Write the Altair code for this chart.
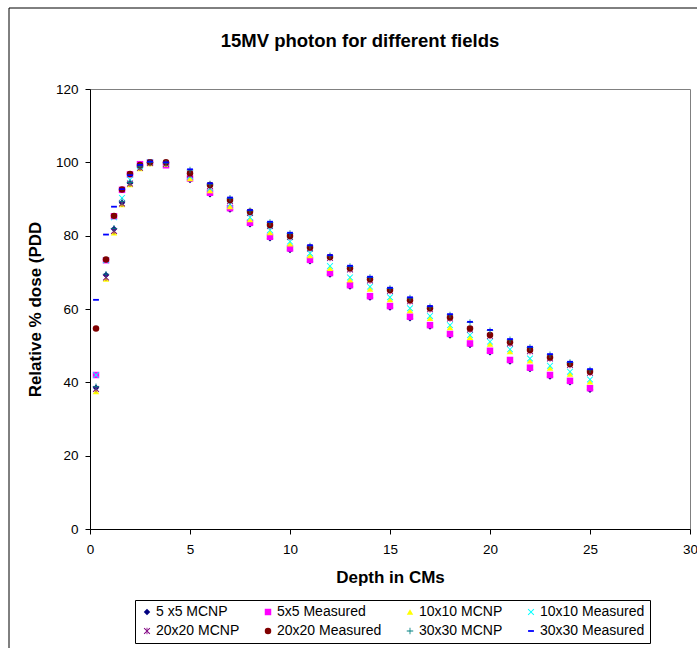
import altair as alt
import pandas as pd

# ---------------- data ----------------
depth = [0.3, 0.8, 1.2, 1.6, 2.0, 2.5, 3.0, 3.8,
         5, 6, 7, 8, 9, 10, 11, 12, 13, 14, 15, 16, 17, 18, 19, 20, 21, 22, 23, 24, 25]

mcnp_5x5 = [38.5, 69.3, 81.8, 89.0, 94.3, 98.6, 99.8, 99.4,
            95.2, 91.3, 87.1, 83.1, 79.3, 76.1, 73.0, 69.4, 66.1, 63.1, 60.4, 57.5, 55.2,
            52.8, 50.2, 48.2, 45.7, 43.6, 41.6, 40.0, 38.0]
meas_5x5 = [42.0, 73.3, 85.3, 92.5, 96.7, 99.5, 100.0, 99.2,
            95.6, 91.7, 87.5, 83.5, 79.7, 76.5, 73.4, 69.8, 66.5, 63.5, 60.8, 57.9, 55.6,
            53.2, 50.6, 48.6, 46.1, 44.0, 42.0, 40.4, 38.4]
mcnp_10x10 = [37.5, 68.2, 80.8, 88.5, 94.0, 98.3, 99.7, 99.5,
              95.6, 92.3, 88.0, 84.4, 80.9, 77.8, 74.6, 71.1, 68.0, 65.5, 62.6, 59.6, 57.5,
              55.0, 52.3, 50.5, 48.4, 45.9, 43.9, 42.3, 40.2]
meas_10x10 = [42.0, 73.3, 85.0, 90.3, 95.3, 99.0, 100.0, 99.6,
              96.2, 92.9, 88.6, 85.0, 81.5, 78.4, 75.2, 71.7, 68.6, 66.1, 63.2, 60.2, 58.1,
              55.6, 52.9, 51.1, 49.0, 46.5, 44.5, 42.9, 40.8]
mcnp_20x20 = [38.2, 68.6, 81.3, 88.8, 94.2, 98.5, 99.8, 99.6,
              96.7, 93.5, 89.4, 86.2, 82.6, 79.6, 76.5, 73.9, 70.8, 67.8, 64.9, 62.1, 59.9,
              57.4, 54.4, 52.6, 50.6, 48.5, 46.5, 44.7, 42.6]
meas_20x20 = [54.7, 73.5, 85.4, 92.6, 96.8, 99.3, 100.0, 100.0,
              97.0, 93.8, 89.7, 86.5, 82.9, 79.9, 76.8, 74.2, 71.1, 68.1, 65.2, 62.4, 60.2,
              57.7, 54.7, 52.9, 50.9, 48.8, 46.8, 45.0, 42.9]
mcnp_30x30 = [38.8, 69.5, 82.0, 89.3, 94.5, 98.8, 100.0, 99.8,
              97.9, 94.1, 90.2, 86.8, 83.6, 80.6, 77.2, 74.5, 71.6, 68.6, 65.6, 63.0, 60.6,
              58.4, 56.3, 54.1, 51.6, 49.5, 47.5, 45.4, 43.4]
meas_30x30 = [62.5, 80.3, 87.9, 92.7, 96.5, 99.3, 100.2, 100.0,
              98.1, 94.3, 90.4, 87.0, 83.8, 80.8, 77.4, 74.7, 71.8, 68.8, 65.8, 63.2, 60.8,
              58.6, 56.5, 54.3, 51.8, 49.7, 47.7, 45.6, 43.6]

series_names = ["5 x5 MCNP", "5x5 Measured", "10x10 MCNP", "10x10 Measured",
                "20x20 MCNP", "20x20 Measured", "30x30 MCNP", "30x30 Measured"]
series_values = [mcnp_5x5, meas_5x5, mcnp_10x10, meas_10x10,
                 mcnp_20x20, meas_20x20, mcnp_30x30, meas_30x30]

colors = ["#000080", "#FF00FF", "#FFFF00", "#00FFFF",
          "#800080", "#800000", "#008080", "#0000FF"]

X_PATH = "M-1,-0.8L-0.8,-1L0,-0.2L0.8,-1L1,-0.8L0.2,0L1,0.8L0.8,1L0,0.2L-0.8,1L-1,0.8L-0.2,0Z"
AST_PATH = (X_PATH + " M-0.13,-1H0.13V-0.35H-0.13Z M-0.13,0.35H0.13V1H-0.13Z")
PLUS_PATH = "M-0.13,-1H0.13V-0.13H1V0.13H0.13V1H-0.13V0.13H-1V-0.13H-0.13Z"
DASH_PATH = "M-0.9,-0.28H0.9V0.28H-0.9Z"
shapes = ["diamond", "square", "triangle-up", X_PATH,
          AST_PATH, "circle", PLUS_PATH, DASH_PATH]

rows = []
for name, vals in zip(series_names, series_values):
    for d, v in zip(depth, vals):
        rows.append({"series": name, "depth": d, "dose": v})
df = pd.DataFrame(rows)

FONT = "Liberation Sans"

points = alt.Chart(df).mark_point(filled=True, size=42, opacity=1).encode(
    x=alt.X("depth:Q",
            scale=alt.Scale(domain=[0, 30], nice=False, zero=True),
            axis=alt.Axis(values=[0, 5, 10, 15, 20, 25, 30], title="Depth in CMs",
                          labelFlush=False, labelPadding=8,
                          titleY=48, titleBaseline="middle", titleFontSize=17)),
    y=alt.Y("dose:Q",
            scale=alt.Scale(domain=[0, 120], nice=False),
            axis=alt.Axis(values=[0, 20, 40, 60, 80, 100, 120], title="Relative % dose  (PDD",
                          labelFlush=False, labelPadding=7,
                          titleX=-55, titleY=220, titleAngle=-90, titleAlign="center",
                          titleBaseline="middle", titleFontSize=17)),
    color=alt.Color("series:N",
                    scale=alt.Scale(domain=series_names, range=colors),
                    legend=alt.Legend(title=None, orient="none", legendX=45, legendY=511,
                                      direction="horizontal",
                                      columns=4, columnPadding=21, rowPadding=5,
                                      padding=5, strokeColor="black", fillColor="white",
                                      labelFont=FONT, labelFontSize=14, labelColor="black",
                                      symbolSize=42, labelOffset=2, symbolStrokeWidth=0)),
    shape=alt.Shape("series:N",
                    scale=alt.Scale(domain=series_names, range=shapes)),
)

frame = alt.Chart(alt.Data(values=[{}])).mark_rect(
    filled=False, stroke="black", strokeWidth=1
).encode(
    x=alt.value(-81), x2=alt.value(720),
    y=alt.value(-81), y2=alt.value(620),
)

chart = alt.layer(frame, points).properties(
    width=600, height=440,
    background="white",
    title=alt.TitleParams(text="15MV photon for different fields", font=FONT,
                          fontSize=18.5, fontWeight="bold", anchor="middle",
                          dx=-30, dy=81, offset=38, color="black"),
    autosize=alt.AutoSizeParams(type="none"),
    padding={"left": 90, "top": 89, "right": 7, "bottom": 119},
).configure_view(
    stroke="#808080", strokeWidth=1
).configure_axis(
    grid=False, domainColor="black", tickColor="black", tickSize=5,
    labelFont=FONT, labelFontSize=13.5, labelColor="black",
    titleFont=FONT, titleFontWeight="bold", titleColor="black",
)

chart.save("out.html", embed_options={"renderer": "svg", "actions": False})
